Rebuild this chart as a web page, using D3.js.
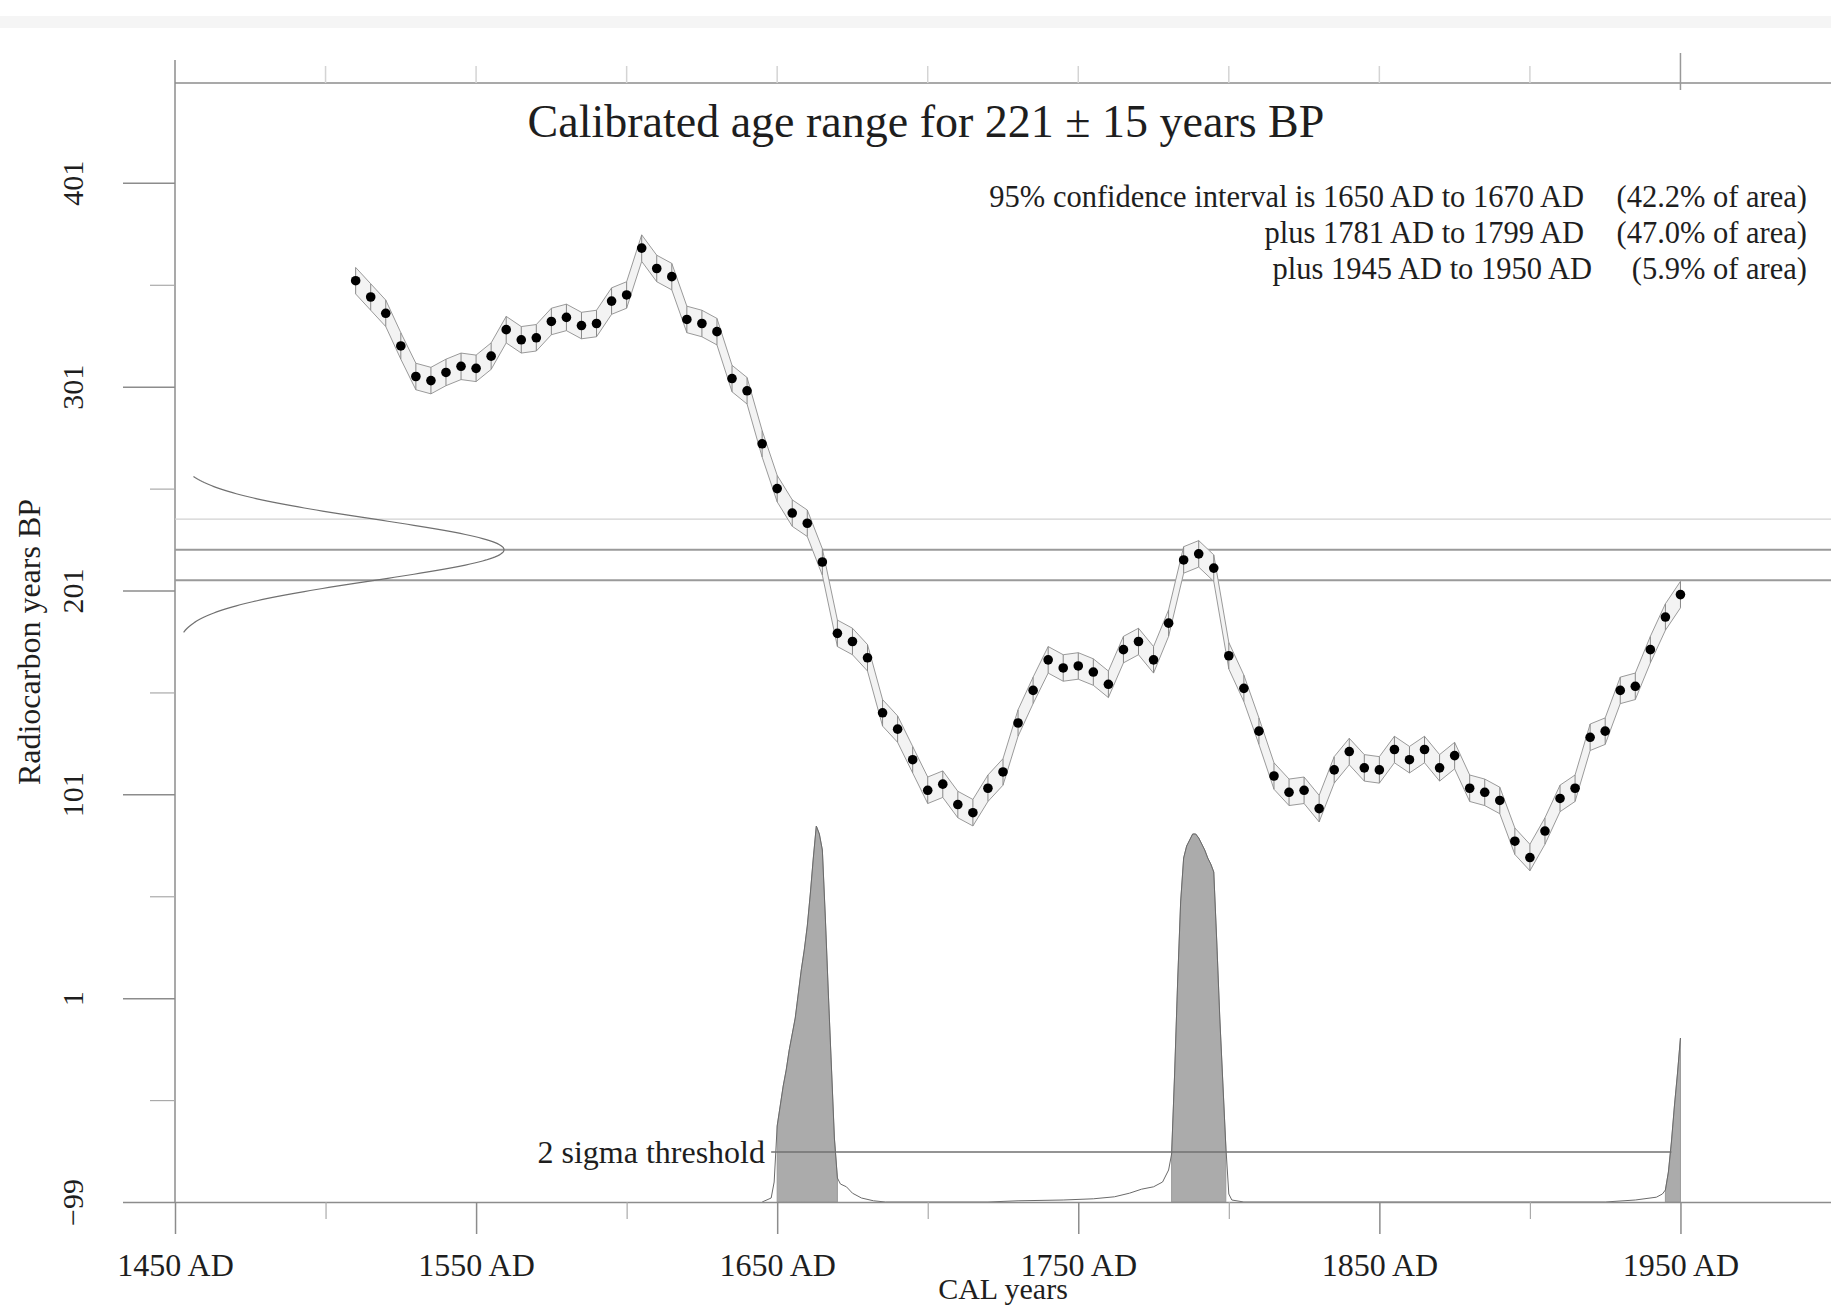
<!DOCTYPE html>
<html>
<head>
<meta charset="utf-8">
<script src="https://cdn.jsdelivr.net/npm/d3@7"></script>
<style>
  body { margin: 0; background: #fff; }
  svg { display: block; font-family: 'Liberation Serif', 'Times New Roman', serif; }
</style>
</head>
<body>
<script>
// sample: 221 +/- 15 BP
const sampleAge = 221;
const sampleErr = 15;

// calibration curve, every 5 cal years
const calYears = [1510, 1515, 1520, 1525, 1530, 1535, 1540, 1545, 1550, 1555,
                  1560, 1565, 1570, 1575, 1580, 1585, 1590, 1595, 1600, 1605,
                  1610, 1615, 1620, 1625, 1630, 1635, 1640, 1645, 1650, 1655,
                  1660, 1665, 1670, 1675, 1680, 1685, 1690, 1695, 1700, 1705,
                  1710, 1715, 1720, 1725, 1730, 1735, 1740, 1745, 1750, 1755,
                  1760, 1765, 1770, 1775, 1780, 1785, 1790, 1795, 1800, 1805,
                  1810, 1815, 1820, 1825, 1830, 1835, 1840, 1845, 1850, 1855,
                  1860, 1865, 1870, 1875, 1880, 1885, 1890, 1895, 1900, 1905,
                  1910, 1915, 1920, 1925, 1930, 1935, 1940, 1945, 1950];
const calBP = [353, 345, 337, 321, 306, 304, 308, 311, 310, 316,
               329, 324, 325, 333, 335, 331, 332, 343, 346, 369,
               359, 355, 334, 332, 328, 305, 299, 273, 251, 239,
               234, 215, 180, 176, 168, 141, 133, 118, 103, 106,
               96, 92, 104, 112, 136, 152, 167, 163, 164, 161,
               155, 172, 176, 167, 185, 216, 219, 212, 169, 153,
               132, 110, 102, 103, 94, 113, 122, 114, 113, 123,
               118, 123, 114, 120, 104, 102, 98, 78, 70, 83,
               99, 104, 129, 132, 152, 154, 172, 188, 199];
const curveErr = 6.5;

// calibrated probability (relative)
const probYears = [1600, 1645, 1648, 1649, 1650, 1651, 1652, 1653, 1654, 1655,
                   1656, 1657, 1658, 1659, 1660, 1661, 1662, 1663, 1664, 1665,
                   1666, 1667, 1668, 1669, 1670, 1671, 1673, 1675, 1678, 1682,
                   1686, 1720, 1730, 1745, 1755, 1762, 1767, 1771, 1775, 1778,
                   1780, 1781, 1782, 1783, 1784, 1785, 1786, 1787, 1788, 1789,
                   1790, 1791, 1792, 1793, 1794, 1795, 1796, 1797, 1798, 1799,
                   1800, 1801, 1805, 1925, 1935, 1942, 1944, 1945, 1946, 1947,
                   1948, 1949, 1950];
const probValues = [0, 0, 0.01, 0.05, 0.19, 0.24, 0.29, 0.33, 0.38, 0.42,
                    0.46, 0.52, 0.58, 0.63, 0.69, 0.77, 0.86, 0.94, 0.92, 0.88,
                    0.71, 0.52, 0.34, 0.16, 0.06, 0.045, 0.038, 0.022, 0.01, 0.003,
                    0, 0, 0.003, 0.005, 0.008, 0.013, 0.022, 0.032, 0.038, 0.05,
                    0.08, 0.12, 0.32, 0.55, 0.75, 0.86, 0.89, 0.905, 0.92, 0.92,
                    0.91, 0.895, 0.88, 0.86, 0.845, 0.825, 0.65, 0.46, 0.30, 0.14,
                    0.02, 0.005, 0, 0, 0.005, 0.012, 0.02, 0.03, 0.075, 0.15,
                    0.24, 0.32, 0.41];
const threshold = 0.125;

// 95% ranges
const rangeFrom = [1650, 1781, 1945];
const rangeTo = [1670, 1799, 1950];
const rangeArea = ['42.2', '47.0', '5.9'];

const xTicks = [1450, 1550, 1650, 1750, 1850, 1950];
const xMinor = [1500, 1600, 1700, 1800, 1900];
const yTicks = [-99, 1, 101, 201, 301, 401];
const yMinor = [-49, 51, 151, 251, 351];

const width = 1831;
const height = 1307;

const svg = d3.select('body')
              .append('svg')
              .attr('width', width)
              .attr('height', height);

const x = d3.scaleLinear().domain([1450, 2000]).range([175, 1831]);
const y = d3.scaleLinear().domain([-99, 450]).range([1202, 83]);
const py = d3.scaleLinear().domain([0, 1]).range([1202, 802]);
const gx = d3.scaleLinear().domain([0, 1]).range([175, 504]);

const axisColor = '#8c8c8c';
const textColor = '#1e1e1e';

// scanner smudge along the top
svg.append('rect')
   .attr('x', 0).attr('y', 16).attr('width', width).attr('height', 12)
   .attr('fill', '#f5f5f5');

// frame: top line and its ticks
svg.append('line')
   .attr('x1', x(1450)).attr('x2', width)
   .attr('y1', y(450)).attr('y2', y(450))
   .attr('stroke', axisColor).attr('stroke-width', 1.5);

svg.selectAll('.top-tick')
   .data(d3.range(1500, 1951, 50))
   .enter()
   .append('line')
   .attr('x1', d => x(d)).attr('x2', d => x(d))
   .attr('y1', d => d === 1950 ? 53 : 66)
   .attr('y2', d => d === 1950 ? 90 : y(450))
   .attr('stroke', d => d === 1950 ? '#999' : '#d4d4d4')
   .attr('stroke-width', 1.5);

// y axis line
svg.append('line')
   .attr('x1', x(1450)).attr('x2', x(1450))
   .attr('y1', 60).attr('y2', y(-99))
   .attr('stroke', axisColor).attr('stroke-width', 1.5);

// sample age lines
svg.selectAll('.age-line')
   .data([sampleAge + sampleErr, sampleAge, sampleAge - sampleErr])
   .enter()
   .append('line')
   .attr('x1', x(1450)).attr('x2', width)
   .attr('y1', d => y(d)).attr('y2', d => y(d))
   .attr('stroke', d => d === sampleAge + sampleErr ? '#d2d2d2' : '#9a9a9a')
   .attr('stroke-width', d => d === sampleAge + sampleErr ? 1.2 : 2);

// sample distribution on the y axis
const gaussPts = d3.range(sampleAge - 2.7 * sampleErr, sampleAge + 2.4 * sampleErr + 0.1, 0.5)
                   .map(v => [v, Math.exp(-((v - sampleAge) ** 2) / (2 * sampleErr * sampleErr))]);
svg.append('path')
   .datum(gaussPts)
   .attr('fill', 'none')
   .attr('stroke', '#707070')
   .attr('stroke-width', 1.2)
   .attr('d', d3.line().x(d => gx(d[1])).y(d => y(d[0])));

// calibration curve envelope
const curve = calYears.map((yr, i) => ({ yr: yr, bp: calBP[i] }));

svg.append('path')
   .datum(curve)
   .attr('fill', '#f3f3f3')
   .attr('d', d3.area().x(d => x(d.yr)).y0(d => y(d.bp - curveErr)).y1(d => y(d.bp + curveErr)));

[curveErr, -curveErr].forEach(off => {
  svg.append('path')
     .datum(curve)
     .attr('fill', 'none')
     .attr('stroke', '#9a9a9a')
     .attr('stroke-width', 1)
     .attr('d', d3.line().x(d => x(d.yr)).y(d => y(d.bp + off)));
});

svg.selectAll('.err-bar')
   .data(curve)
   .enter()
   .append('line')
   .attr('x1', d => x(d.yr)).attr('x2', d => x(d.yr))
   .attr('y1', d => y(d.bp + curveErr)).attr('y2', d => y(d.bp - curveErr))
   .attr('stroke', '#888').attr('stroke-width', 1);

svg.selectAll('.dot')
   .data(curve)
   .enter()
   .append('circle')
   .attr('cx', d => x(d.yr))
   .attr('cy', d => y(d.bp))
   .attr('r', 4.8)
   .attr('fill', '#000');

// probability distribution
const prob = probYears.map((yr, i) => ({ yr: yr, p: probValues[i] }));
const probAt = yr => {
  const i = d3.bisector(d => d.yr).left(prob, yr);
  if (i <= 0) return prob[0].p;
  if (i >= prob.length) return prob[prob.length - 1].p;
  const a = prob[i - 1], b = prob[i];
  return a.p + (b.p - a.p) * (yr - a.yr) / (b.yr - a.yr);
};

rangeFrom.forEach((from, k) => {
  const to = rangeTo[k];
  const pts = [{ yr: from, p: probAt(from) }]
    .concat(prob.filter(d => d.yr > from && d.yr < to))
    .concat([{ yr: to, p: probAt(to) }]);
  svg.append('path')
     .datum(pts)
     .attr('fill', '#ababab')
     .attr('stroke', '#9a9a9a')
     .attr('stroke-width', 1)
     .attr('d', d3.area().x(d => x(d.yr)).y0(py(0)).y1(d => py(d.p)));
});

svg.append('path')
   .datum(prob.filter(d => d.yr >= 1640))
   .attr('fill', 'none')
   .attr('stroke', '#6a6a6a')
   .attr('stroke-width', 1)
   .attr('d', d3.line().x(d => x(d.yr)).y(d => py(d.p)));

// 2 sigma threshold
svg.append('line')
   .attr('x1', x(1648)).attr('x2', x(1947))
   .attr('y1', py(threshold)).attr('y2', py(threshold))
   .attr('stroke', '#707070').attr('stroke-width', 1.5);

svg.append('text')
   .attr('x', 765).attr('y', py(threshold) + 11)
   .attr('text-anchor', 'end')
   .attr('font-size', 32)
   .attr('fill', textColor)
   .text('2 sigma threshold');

// x axis
const xAxis = svg.append('g')
                 .attr('transform', `translate(0,${y(-99)})`)
                 .call(d3.axisBottom(x)
                         .tickValues(xTicks)
                         .tickSize(32)
                         .tickSizeOuter(0)
                         .tickFormat(d => d + ' AD'));
xAxis.attr('font-family', null).attr('font-size', 32);
xAxis.select('.domain').attr('stroke', axisColor).attr('stroke-width', 1.5);
xAxis.selectAll('.tick line').attr('stroke', axisColor).attr('stroke-width', 1.5);
xAxis.selectAll('.tick text').attr('y', 74).attr('dy', null).attr('fill', textColor);

const xAxisMinor = svg.append('g')
                      .attr('transform', `translate(0,${y(-99)})`)
                      .call(d3.axisBottom(x).tickValues(xMinor).tickSize(17).tickFormat(''));
xAxisMinor.select('.domain').remove();
xAxisMinor.selectAll('.tick line').attr('stroke', '#aaa').attr('stroke-width', 1.2);

// y axis
const yAxis = svg.append('g')
                 .attr('transform', `translate(${x(1450)},0)`)
                 .call(d3.axisLeft(y)
                         .tickValues(yTicks)
                         .tickSize(52)
                         .tickSizeOuter(0));
yAxis.attr('font-family', null).attr('font-size', 30);
yAxis.select('.domain').remove();
yAxis.selectAll('.tick line').attr('stroke', axisColor).attr('stroke-width', 1.5);
yAxis.selectAll('.tick text')
     .attr('x', null).attr('dy', null)
     .attr('text-anchor', 'middle')
     .attr('transform', 'translate(-92,0) rotate(-90)')
     .attr('fill', textColor);

const yAxisMinor = svg.append('g')
                      .attr('transform', `translate(${x(1450)},0)`)
                      .call(d3.axisLeft(y).tickValues(yMinor).tickSize(25).tickFormat(''));
yAxisMinor.select('.domain').remove();
yAxisMinor.selectAll('.tick line').attr('stroke', '#aaa').attr('stroke-width', 1.2);

// axis titles
svg.append('text')
   .attr('transform', 'translate(40,642) rotate(-90)')
   .attr('text-anchor', 'middle')
   .attr('font-size', 32)
   .attr('fill', textColor)
   .text('Radiocarbon years BP');

svg.append('text')
   .attr('x', x(1725)).attr('y', 1299)
   .attr('text-anchor', 'middle')
   .attr('font-size', 30)
   .attr('fill', textColor)
   .text('CAL years');

// title
svg.append('text')
   .attr('x', 926).attr('y', 137)
   .attr('text-anchor', 'middle')
   .attr('font-size', 46)
   .attr('fill', textColor)
   .text(`Calibrated age range for ${sampleAge} \u00b1 ${sampleErr} years BP`);

// range notes
const notes = svg.append('g').attr('font-size', 30.5).attr('fill', textColor);
rangeFrom.forEach((from, k) => {
  const lead = k === 0 ? '95% confidence interval is ' : 'plus ';
  notes.append('text')
       .attr('x', k === 2 ? 1592 : 1584)
       .attr('y', 207 + k * 36)
       .attr('text-anchor', 'end')
       .text(`${lead}${from} AD to ${rangeTo[k]} AD`);
  notes.append('text')
       .attr('x', 1807)
       .attr('y', 207 + k * 36)
       .attr('text-anchor', 'end')
       .text(`(${rangeArea[k]}% of area)`);
});
</script>
</body>
</html>
